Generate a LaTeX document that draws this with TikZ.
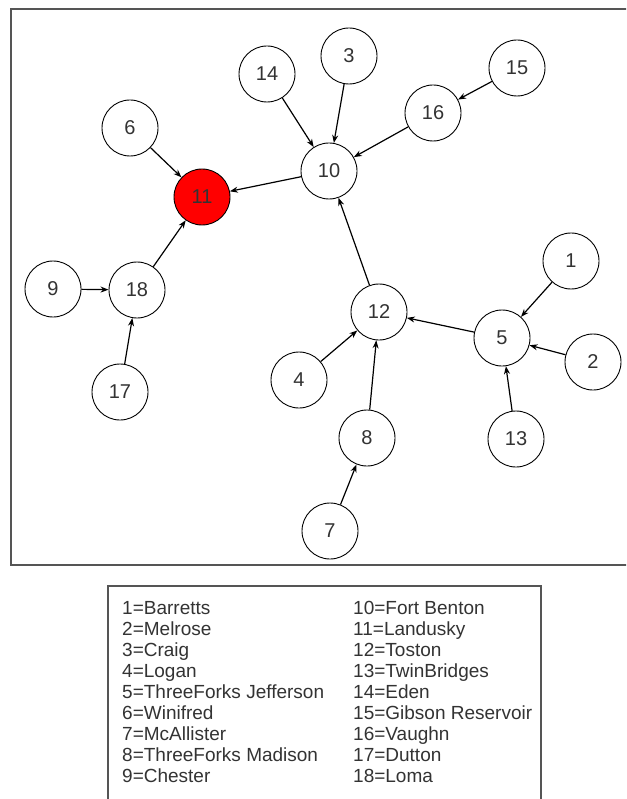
\documentclass[tikz,border=0pt]{standalone}
\usepackage{fontspec}
\setmainfont{Liberation Sans}
\usetikzlibrary{arrows.meta}
\definecolor{framegray}{HTML}{555555}
\definecolor{labelgray}{HTML}{333333}
\definecolor{hubred}{HTML}{FF0000}
\tikzset{
  site/.style={circle, draw=black, line width=0.9pt, fill=white, minimum size=56pt,
    inner sep=0pt, text=labelgray, font=\fontsize{20}{20}\selectfont},
  hub/.style={site, fill=hubred},
  flow/.style={line width=1.2pt, -{Stealth[length=8pt,width=6pt]}},
  legend/.style={anchor=base west, inner sep=0pt, text=labelgray, font=\fontsize{19}{20}\selectfont},
  panel/.style={draw=framegray, line width=1.6pt}
}
\begin{document}
\begin{tikzpicture}[x=1pt, y=-1pt]
\useasboundingbox (0,0) rectangle (626,799);
\clip (0,0) rectangle (626,799);
\fill[white] (0,0) rectangle (626,799);

% network panel and legend panel
\draw[panel] (11,9) rectangle (660,565);
\draw[panel] (108,586) rectangle (541,830);

% stations
\node[site] (n1)  at (571,261) {1};
\node[site] (n2)  at (593,362) {2};
\node[site] (n3)  at (349,56)  {3};
\node[site] (n4)  at (299,380) {4};
\node[site] (n5)  at (502,338) {5};
\node[site] (n6)  at (130,128) {6};
\node[site] (n7)  at (330,531) {7};
\node[site] (n8)  at (367,438) {8};
\node[site] (n9)  at (53,289)  {9};
\node[site] (n10) at (329,171) {10};
\node[hub]  (n11) at (202,197) {11};
\node[site] (n12) at (379,312) {12};
\node[site] (n13) at (516,439) {13};
\node[site] (n14) at (267,74)  {14};
\node[site] (n15) at (517,68)  {15};
\node[site] (n16) at (433,113) {16};
\node[site] (n17) at (120,392) {17};
\node[site] (n18) at (137,290) {18};

% directed links
\draw[flow] (n14) -- (n10);
\draw[flow] (n3)  -- (n10);
\draw[flow] (n16) -- (n10);
\draw[flow] (n15) -- (n16);
\draw[flow] (n10) -- (n11);
\draw[flow] (n6)  -- (n11);
\draw[flow] (n18) -- (n11);
\draw[flow] (n9)  -- (n18);
\draw[flow] (n17) -- (n18);
\draw[flow] (n12) -- (n10);
\draw[flow] (n5)  -- (n12);
\draw[flow] (n4)  -- (n12);
\draw[flow] (n8)  -- (n12);
\draw[flow] (n7)  -- (n8);
\draw[flow] (n1)  -- (n5);
\draw[flow] (n2)  -- (n5);
\draw[flow] (n13) -- (n5);

% legend entries (baselines 21pt apart)
\node[legend] (l1)  at (122,614) {1=Barretts};
\node[legend] (l2)  at (122,635) {2=Melrose};
\node[legend] (l3)  at (122,656) {3=Craig};
\node[legend] (l4)  at (122,677) {4=Logan};
\node[legend] (l5)  at (122,698) {5=ThreeForks Jefferson};
\node[legend] (l6)  at (122,719) {6=Winifred};
\node[legend] (l7)  at (122,740) {7=McAllister};
\node[legend] (l8)  at (122,761) {8=ThreeForks Madison};
\node[legend] (l9)  at (122,782) {9=Chester};
\node[legend] (l10) at (353,614) {10=Fort Benton};
\node[legend] (l11) at (353,635) {11=Landusky};
\node[legend] (l12) at (353,656) {12=Toston};
\node[legend] (l13) at (353,677) {13=TwinBridges};
\node[legend] (l14) at (353,698) {14=Eden};
\node[legend] (l15) at (353,719) {15=Gibson Reservoir};
\node[legend] (l16) at (353,740) {16=Vaughn};
\node[legend] (l17) at (353,761) {17=Dutton};
\node[legend] (l18) at (353,782) {18=Loma};
\end{tikzpicture}
\end{document}
